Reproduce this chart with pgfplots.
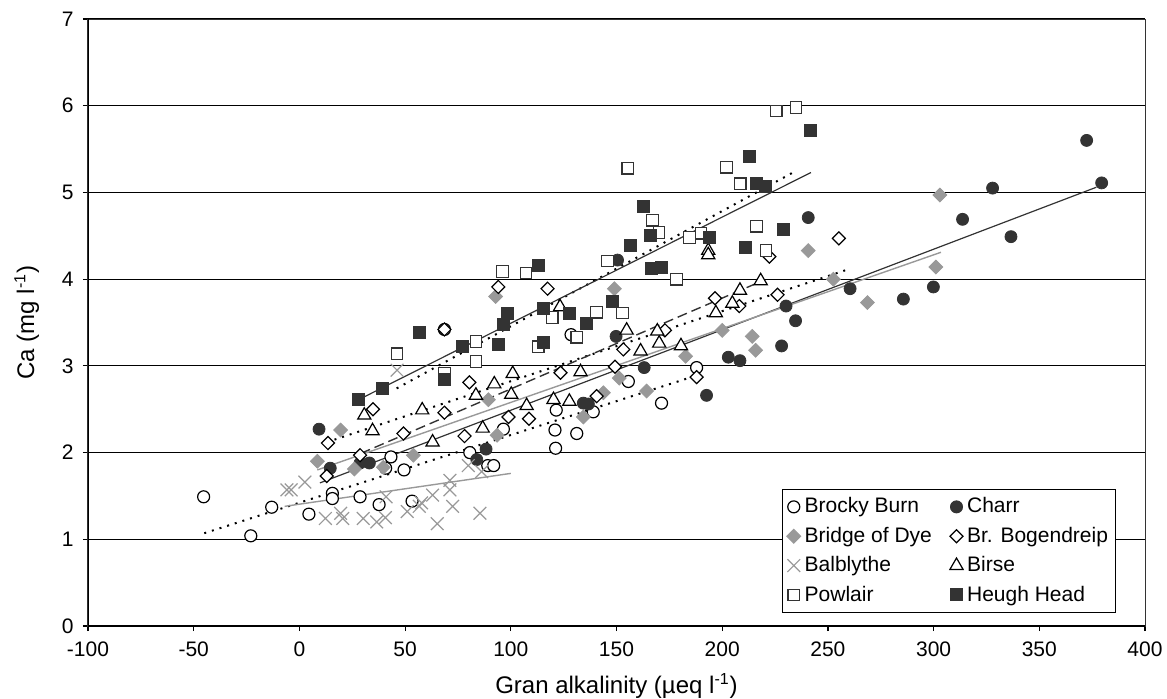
\documentclass[border=0pt]{standalone}
\usepackage{fontspec}
\setmainfont{Liberation Sans}
\usepackage{pgfplots}
\pgfplotsset{compat=1.18}
\definecolor{dk}{HTML}{333333}
\definecolor{gy}{HTML}{999999}
\begin{document}
\fontsize{10.5}{12.6}\selectfont
\begin{tikzpicture}
\useasboundingbox (-44pt,-36pt) rectangle (539.5pt,313pt);
\begin{axis}[
  at={(0,0)}, anchor=south west,
  scale only axis, width=528.5pt, height=303.5pt,
  xmin=-100, xmax=400, ymin=0, ymax=7,
  xtick={-100,-50,...,400},
  xticklabels={-100,-50,0,50,100,150,200,250,300,350,400},
  ytick={0,1,...,7},
  yticklabels={0,1,2,3,4,5,6,7},
  tick pos=left, tick align=outside,
  major tick length=2.5pt,
  ymajorgrids, grid style={black, line width=0.6pt},
  axis line style={line width=0.5pt, black!80},
  tick style={black, line width=0.6pt},
  every tick label/.append style={font=\fontsize{10.5}{12.6}\selectfont},
  xticklabel style={yshift=-1.75pt},
  yticklabel style={xshift=-1pt},
  label style={font=\fontsize{12}{14.4}\selectfont},
  xlabel={Gran alkalinity (µeq l\textsuperscript{-1})},
  ylabel={Ca (mg l\textsuperscript{-1})},
  xlabel style={at={(axis description cs:0.5,-0.1104)}, anchor=base},
  ylabel style={at={(axis description cs:-0.0579,0.5)}, anchor=center},
  legend columns=2,
  legend style={at={(0.973,0.022)}, anchor=south east, draw=black, line width=0.5pt,
    font=\fontsize{10.5}{12.6}\selectfont, cells={anchor=west},
    /tikz/every even column/.append style={column sep=7pt},
    row sep=1.5pt, inner xsep=2pt, inner ysep=2pt},
  legend image code/.code={\draw plot coordinates {(0.12cm,0cm)};},
]
% Brocky Burn
\addplot[only marks, mark=*, mark size=3pt, mark options={draw=black, fill=white, line width=0.6pt}] coordinates {
(-45.3,1.49) (-23.0,1.04) (-13.1,1.37) (4.5,1.29) (15.6,1.53) (15.6,1.47) (28.7,1.49) (37.7,1.40) (53.3,1.44) (40.8,1.82) (43.3,1.95) (49.5,1.80) (80.6,2.00) (89.1,1.85) (91.9,1.85) (96.5,2.27) (121.5,2.49) (120.9,2.26) (121.2,2.05) (68.6,3.42) (128.5,3.36) (131.2,2.22) (139,2.47) (155.6,2.82) (171.3,2.57) (187.9,2.98)
};
\addlegendentry{Brocky Burn}
% Charr
\addplot[only marks, mark=*, mark size=3pt, mark options={draw=dk, fill=dk}] coordinates {
(9.3,2.27) (14.6,1.82) (28.7,1.88) (33.1,1.88) (83.9,1.92) (88.3,2.04) (134.3,2.57) (136.7,2.56) (149.8,3.34) (150.5,4.22) (163.1,2.98) (192.6,2.66) (202.9,3.10) (208.4,3.06) (228.1,3.23) (230.2,3.69) (234.7,3.52) (240.7,4.71) (260.5,3.89) (285.7,3.77) (299.9,3.91) (313.7,4.69) (327.9,5.05) (336.6,4.49) (372.4,5.60) (379.5,5.11)
};
\addlegendentry{Charr}
% Bridge of Dye
\addplot[only marks, mark=square*, mark size=2.45pt, mark options={draw=gy, fill=gy, rotate=45}] coordinates {
(8.5,1.90) (19.5,2.26) (26,1.81) (39.7,1.83) (53.9,1.97) (89.4,2.61) (92.8,3.80) (93.5,2.20) (134.3,2.41) (143.8,2.69) (149,3.89) (151.3,2.86) (164.2,2.71) (182.7,3.11) (200,3.41) (214.2,3.34) (215.8,3.18) (240.7,4.33) (252.6,4.0) (268.7,3.73) (301.1,4.14) (303,4.97)
};
\addlegendentry{Bridge of Dye}
% Br. Bogendreip
\addplot[only marks, mark=square*, mark size=2.3pt, mark options={draw=black, fill=white, rotate=45, line width=0.6pt}] coordinates {
(12.9,1.73) (13.5,2.11) (28.7,1.97) (34.8,2.50) (49.2,2.22) (68.6,3.42) (68.6,2.46) (78.1,2.19) (80.4,2.81) (94.1,3.91) (98.9,2.41) (108.6,2.39) (117.4,3.89) (123.5,2.92) (140.6,2.65) (149.3,2.99) (153.2,3.19) (172.9,3.41) (187.9,2.87) (196.6,3.78) (208.1,3.69) (222.3,4.26) (226.2,3.82) (255.2,4.47)
};
\addlegendentry{Br. Bogendreip}
% Balblythe
\addplot[only marks, mark=x, mark size=4.5pt, mark options={draw=gy, line width=0.6pt}] coordinates {
(-5.9,1.57) (-3.9,1.57) (2.6,1.66) (12.3,1.24) (19.5,1.30) (20.5,1.24) (30.2,1.24) (36.6,1.20) (40.7,1.25) (41,1.49) (51,1.32) (56.7,1.38) (57.8,1.42) (63,1.51) (65.2,1.18) (71.2,1.68) (71.2,1.57) (72.5,1.38) (79.9,1.85) (85.4,1.30) (86.2,1.78) (46.2,2.95)
};
\addlegendentry{Balblythe}
% Birse
\addplot[only marks, mark=triangle*, mark size=3.8pt, mark options={draw=black, fill=white, line width=0.6pt}] coordinates {
(30.7,2.43) (34.6,2.25) (58.1,2.49) (63,2.12) (83.5,2.66) (86.7,2.28) (92.2,2.79) (100.9,2.91) (100.2,2.67) (107.5,2.54) (120.2,2.61) (123.3,3.68) (127.7,2.59) (133,2.93) (154.8,3.41) (161.4,3.17) (169.3,3.40) (170.2,3.26) (180.5,3.23) (193.4,4.33) (193.4,4.28) (197,3.61) (204.8,3.72) (208.4,3.87) (218.2,3.98)
};
\addlegendentry{Birse}
% Powlair
\addplot[only marks, mark=square*, mark size=2.9pt, mark options={draw=dk, fill=white, line width=0.6pt}] coordinates {
(46.2,3.14) (68.6,2.91) (83.5,3.28) (83.5,3.05) (96,4.09) (107.2,4.07) (113,3.22) (119.6,3.56) (131.2,3.33) (140.6,3.62) (145.8,4.21) (152.9,3.61) (155.3,5.28) (167,4.68) (170.1,4.54) (178.4,4.0) (184.5,4.48) (190,4.53) (202.1,5.29) (208.5,5.10) (216.3,4.61) (220.7,4.33) (225.5,5.94) (234.9,5.98)
};
\addlegendentry{Powlair}
% Heugh Head
\addplot[only marks, mark=square*, mark size=3pt, mark options={draw=dk, fill=dk}] coordinates {
(28,2.61) (39.1,2.74) (56.7,3.39) (68.4,2.84) (77.2,3.22) (94.3,3.25) (96.6,3.48) (98.2,3.61) (113,4.16) (115.4,3.66) (115.4,3.27) (127.7,3.61) (135.9,3.49) (148,3.74) (156.4,4.39) (162.7,4.84) (165.8,4.51) (166.6,4.12) (171.3,4.14) (193.9,4.48) (210.8,4.37) (213.1,5.41) (216.3,5.10) (220.2,5.07) (228.9,4.57) (241.5,5.72)
};
\addlegendentry{Heugh Head}
% regression lines
\addplot[forget plot, black, line width=1pt, dash pattern=on 1pt off 3pt] coordinates {(-45,1.07) (188,2.89)};
\addplot[forget plot, dk, line width=0.6pt] coordinates {(9.7,1.65) (377,5.06)};
\addplot[forget plot, gy, line width=0.7pt] coordinates {(8.5,1.80) (303.5,4.31)};
\addplot[forget plot, black, line width=1pt, dash pattern=on 1pt off 3pt] coordinates {(13,2.12) (260.5,4.12)};
\addplot[forget plot, gy, line width=0.7pt] coordinates {(-7,1.38) (100,1.76)};
\addplot[forget plot, dk, line width=0.7pt, dash pattern=on 5pt off 2.5pt] coordinates {(29,1.99) (218,3.97)};
\addplot[forget plot, black, line width=1pt, dash pattern=on 1pt off 3pt] coordinates {(46,2.74) (235,5.25)};
\addplot[forget plot, dk, line width=0.6pt] coordinates {(28,2.61) (242,5.23)};
\draw[black, line width=0.9pt] (rel axis cs:0,1) -- (rel axis cs:0,0) -- (rel axis cs:1,0);
\end{axis}
\end{tikzpicture}
\end{document}
